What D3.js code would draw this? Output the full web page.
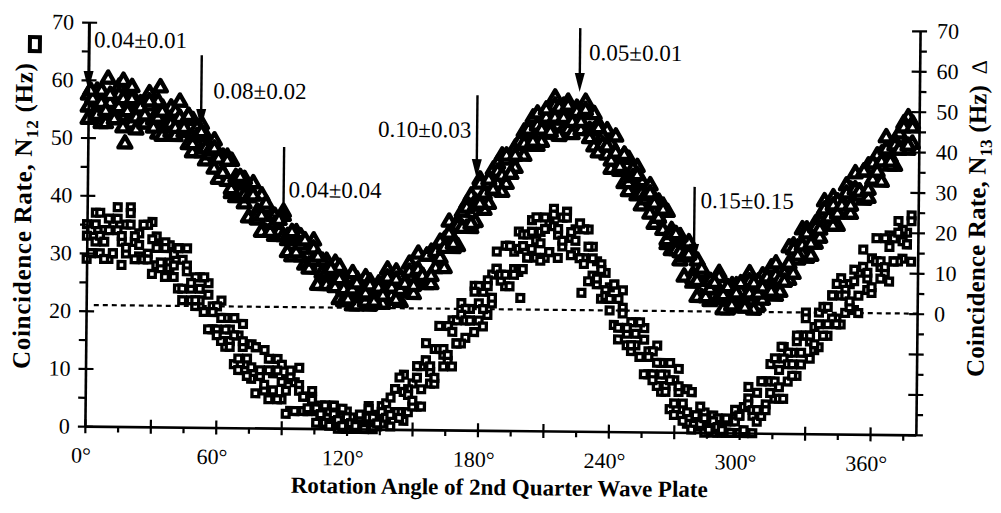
<!DOCTYPE html>
<html>
<head>
<meta charset="utf-8">
<script src="https://cdn.jsdelivr.net/npm/d3@7"></script>
<style>
body { margin: 0; background: #fff; }
</style>
</head>
<body>
<script>
// rotation angle of the 2nd quarter wave plate (deg)
var angles = [
  0,2,4,6,8,10,12,14,16,18,
  20,22,24,26,28,30,32,34,36,38,
  40,42,44,46,48,50,52,54,56,58,
  60,62,64,66,68,70,72,74,76,78,
  80,82,84,86,88,90,92,94,96,98,
  100,102,104,106,108,110,112,114,116,118,
  120,122,124,126,128,130,132,134,136,138,
  140,142,144,146,148,150,152,154,156,158,
  160,162,164,166,168,170,172,174,176,178,
  180,182,184,186,188,190,192,194,196,198,
  200,202,204,206,208,210,212,214,216,218,
  220,222,224,226,228,230,232,234,236,238,
  240,242,244,246,248,250,252,254,256,258,
  260,262,264,266,268,270,272,274,276,278,
  280,282,284,286,288,290,292,294,296,298,
  300,302,304,306,308,310,312,314,316,318,
  320,322,324,326,328,330,332,334,336,338,
  340,342,344,346,348,350,352,354,356,358,
  360,362,364,366,368,370,372,374,376,378
];

// N12 coincidence rate (Hz), squares, left axis, three scans
var n12ScanA = [
  35,30,37,30,34,29,35,38,32,30,
  38,32,29.5,35,30,35.5,28,31.5,26,31.5,
  30,24,29,31,24,21,26,20,25,17,
  17,22,14,17,11,16,18,11,8.5,14,
  9,6.5,12,6.5,12,5,8.5,3,8,10.5,
  3,5.5,6.5,3,1.5,4,1,4,0,2,
  3,0,1.5,0,2,4,1.5,0.5,4,2,
  0.5,7,3,9.5,3,8,4,11,15,10,
  14,18,13,12,19,15,22,16,21,17,
  19,24,20,27,31,26,25,32,28,34.5,
  34,30,36.5,30,34.5,30,36,38.5,34,32,
  38,33.5,31,36,30,35,27,29.5,23,27.5,
  25,18.5,23,24.5,17,14,19,13,18,10,
  10,15,7,10,4,9,11,4,1.5,7,
  2.5,1,3.5,0.5,3,0,1.5,0,2,4,
  0,4.5,8,3,2,9,5,12,6,11,
  15,9,14,10,17,21,16,14.5,21,17,
  17,24,20,27,21,26,21.5,28,32,27,
  30.5,34,29,28,34.5,30,37,30.5,35,30
];
var n12ScanB = [
  29,34,32,37,29,34,30,36,28,35,
  37,29,33.5,29,35,26.5,33,27.5,32,28.5,
  26,31,22,28,22,26,22,26,17,21,
  21,15,19,15,19,10,14,9,14.5,6,
  9,13.5,5,9.5,5,11,2.5,9,3,7.5,
  5.5,3,5.5,1,4,1,3,4,1,3.5,
  0,2,0,2,0.5,3.5,0,2.5,1,4.5,
  5.5,3,9,1.5,7,4,11,4,12,8,
  8,14,11,18,11,19,15,21,19,25,
  25,18,26,22,28,26,32,25,31,27.5,
  28,34,31.5,37,29.5,35,31,37.5,30,37,
  38,30.5,35,30,35,26,32,25.5,29,24.5,
  21,25.5,16,21.5,15,19,15,19,10,14,
  14,8,12,8,12,3,7,2,7.5,0.5,
  2.5,4.5,0,2,0,2.5,0,2,0,2.5,
  3,0,6,0,7,3,9,7,13,6,
  6,14,10,16,14,20,13,18.5,15,22,
  22,20,26,19,25,22,28.5,21,29,25,
  24.5,30,27,34,26.5,34,30,35.5,33,38
];
var n12ScanC = [
  33,30,35,33,32,36,30,34,33,31,
  35,33,31.5,35,29,32.5,31,28.5,31,27.5,
  28,31,24,27,25,22,24,20,23,20,
  16,19,17,14,16,12,15,12,10.5,14,
  10,7.5,10,6.5,10,8,6.5,10,3,6.5,
  5.5,3.5,5,3.5,2.5,4,0.5,2.5,1.5,0.5,
  2,1,0.5,2.5,0,2,2,1,3,2,
  2.5,7,2,6.5,6,5,9,7,12,11,
  9,14,14,13,17,15,20,19,19,24,
  22,21,25,23,28,27,27,32,27,31.5,
  32,30,34.5,33,32.5,37,31,35.5,35,33,
  37,34.5,33,36,29,32,30,26.5,28,23.5,
  23,25.5,18,20.5,18,15,17,13,16,13,
  9,12,10,7,9,5,8,5,3.5,7,
  3,1.5,2.5,0.5,2,1,0.5,2.5,0,2,
  3,0.5,5,4,4,9,4,9,9,8,
  13,12,12,17,12,17,17,15.5,19,17,
  19,24,19,24,24,23,26.5,24,29,28,
  25.5,30,30,29,32.5,30,35,33.5,33,37
];
var n12ExtraAngles = [199, 227, 319];
var n12ExtraValues = [23, 24, 15];

// N13 coincidence rate (Hz), triangles, right axis, three scans
var n13ScanA = [
  52,47,53,45,50,46,51,54,48,45,
  45,49.5,45,50,52.5,46,42.5,49,43.5,49,
  48,50.5,44,40,46,40,45,36,39.5,34,
  31.5,37,31,36,27,31,25.5,29,30.5,23.5,
  27.5,18.5,22.5,17.5,21.5,23.5,16.5,12.5,18.5,12.5,
  10.5,14.5,16.5,9.5,5.5,11.5,5.5,11,2,6.5,
  4,0.5,7,2,7.5,0.5,4.5,1,6,9.5,
  3,9,1.5,7,4,9.5,13.5,8,6,14,
  13,10.5,17,21.5,17,15.5,24,20,28,21.5,
  32,27.5,26,34.5,31,38,31,37.5,35,41.5,
  44,40.5,47.5,40.5,46.5,43.5,49,52.5,47,44.5,
  44.5,49.5,45,49.5,51.5,44.5,40.5,46,40,44.5,
  41,43,35.5,31.5,37.5,31,35.5,26,29.5,24,
  21.5,27,20,24.5,15,18,12.5,15.5,17,9,
  12.5,3.5,7.5,2.5,7,9.5,3,0.5,6.5,1.5,
  1,6,9.5,4,1.5,9,4.5,11,4,10,
  9.5,8,16.5,13,20.5,13.5,20,17,23.5,27.5,
  21.5,28.5,21.5,27.5,24.5,30.5,34.5,30,28,36.5,
  36,33,39.5,43.5,38.5,36.5,44.5,41,48.5,42
];
var n13ScanB = [
  46,51,48,53,45,50,47,52,44,51,
  52,43.5,50,45,49.5,46,50.5,42,46.5,43,
  42,46.5,43,47,38,44,38,42,37.5,41,
  37.5,33,37,28,32,28,31.5,22,27.5,21.5,
  18.5,24.5,18.5,22.5,18.5,22.5,13.5,17.5,13.5,17.5,
  14.5,10.5,14.5,5.5,11.5,5.5,9.5,6,10,1.5,
  4,8.5,0.5,5,1.5,6.5,1,6,1,6.5,
  7,2,7.5,5,11,3.5,9.5,7,13,6,
  10,16.5,10,18.5,15,21.5,20,26,20,26.5,
  31,24.5,31,29.5,36,29,37,33.5,40,38.5,
  38,44.5,42.5,48.5,41.5,47.5,45,50.5,43,50.5,
  51.5,43.5,50,44.5,48.5,44.5,48.5,39,43,38.5,
  35,39,34.5,38.5,29.5,35,28.5,32,27.5,31,
  27.5,23,26,16.5,20,15,18.5,8.5,14,7,
  3.5,9.5,3.5,7.5,4,8.5,0.5,5,1.5,6.5,
  5,2,7.5,0.5,7.5,3,8.5,6,12,5,
  9.5,16,9.5,16,14.5,20.5,14,22,18.5,24.5,
  25.5,21.5,27.5,25.5,31.5,24.5,30.5,29,35,28.5,
  33,39,32.5,40.5,36.5,42.5,40.5,47,40.5,47
];
var n13ScanC = [
  49,51,47,50,48,52,46,49,51,48,
  51,46.5,49,47,50.5,44,46.5,48,44.5,45,
  44,46.5,44,47,40,42,43,39,38.5,39,
  36.5,33,36,29,31,32,27.5,27,27.5,22.5,
  22.5,25.5,18.5,20.5,21.5,17.5,17.5,18.5,13.5,15.5,
  16.5,9.5,11.5,12.5,8.5,8.5,9.5,5,7,4.5,
  2,4.5,6,3,3.5,5.5,1.5,5,3,7.5,
  5,7,4.5,6,9,5.5,9.5,8,13,8,
  14,12.5,15,18.5,16,20.5,20,25,21,25.5,
  26,28.5,32,29.5,34,33,38,33.5,38,41.5,
  41,44.5,41.5,45.5,44.5,49.5,44,47.5,50,47.5,
  50.5,46.5,49,46.5,49.5,42.5,44.5,45,41,40.5,
  37,39,35.5,38.5,31.5,33,33.5,29,28.5,29,
  26.5,23,25,17.5,19,19,14.5,13.5,14,8,
  7.5,10.5,3.5,5.5,7,3.5,4,6,1.5,4.5,
  7,1,4.5,7,4.5,6,8.5,5,9,8,
  7.5,12,15.5,14,16.5,19.5,17,21,20.5,25.5,
  23.5,26.5,24.5,26.5,29.5,26.5,30.5,30,35,30.5,
  37,35,37.5,40.5,37.5,41.5,40.5,46,41.5,46
];
var n13ExtraAngles = [9, 16, 20, 17, 33, 1];
var n13ExtraValues = [56, 55.5, 54, 40, 54, 53];

var xTickValues = [0,15,30,45,60,75,90,105,120,135,150,165,180,195,210,225,240,255,270,285,300,315,330,345,360,375];
var xLabelValues = [0,60,120,180,240,300,360];
var leftTickValues = [0,5,10,15,20,25,30,35,40,45,50,55,60,65,70];
var rightTickValues = [-30,-25,-20,-15,-10,-5,0,5,10,15,20,25,30,35,40,45,50,55,60,65,70];

// arrows: angle, shaft top and tip (right-axis units), label anchor point
var noteLabels = ["0.04\u00b10.01","0.08\u00b10.02","0.04\u00b10.04","0.10\u00b10.03","0.05\u00b10.01","0.15\u00b10.15"];
var noteAngles = [0, 51.8, 90, 178.4, 225.2, 278.4];
var noteTops = [70, 62.1, 39.6, 52.9, 69.8, 30.8];
var noteTips = [53.2, 44.1, 19.0, 32.4, 54.0, 12.0];
var noteTextAngles = [2.3, 57.3, 92.2, 175.7, 229.4, 281.2];
var noteTextValues = [63.8, 51.5, 27.2, 42.4, 61.9, 25.6];

var W = 1001, H = 513;
var font = "'Liberation Serif','Times New Roman',serif";
var yTop = 26.5, yBot = 430.5;

var x = d3.scaleLinear().domain([0, 381]).range([87, 918]);
var yL = d3.scaleLinear().domain([0, 70]).range([yBot, yTop]);
var yR = d3.scaleLinear().domain([-30, 70]).range([yBot, yTop]);

var svg = d3.select("body").append("svg").attr("width", W).attr("height", H);
// the scanned figure is slightly tilted
var g = svg.append("g").attr("transform", "rotate(0.6,502,228)");

// dashed zero line of the right axis
g.append("line")
  .attr("x1", x(3.5)).attr("x2", x(381))
  .attr("y1", yR(0)).attr("y2", yR(0))
  .attr("stroke", "#000").attr("stroke-width", 2.2)
  .attr("stroke-dasharray", "5,4");

function pairs(xs, ys) {
  return xs.map(function(a, i){ return [a, ys[i]]; });
}

// triangles
var n13Points = pairs(angles, n13ScanA)
  .concat(pairs(angles, n13ScanB))
  .concat(pairs(angles, n13ScanC))
  .concat(pairs(n13ExtraAngles, n13ExtraValues));
var tri = d3.symbol().type(d3.symbolTriangle).size(72);
g.append("g").selectAll("path").data(n13Points).enter().append("path")
  .attr("d", tri)
  .attr("transform", function(d){ return "translate(" + x(d[0]) + "," + yR(d[1]) + ")"; })
  .attr("fill", "#fff").attr("stroke", "#000").attr("stroke-width", 4.4)
  .attr("stroke-linejoin", "round");

// squares
var n12Points = pairs(angles, n12ScanA)
  .concat(pairs(angles, n12ScanB))
  .concat(pairs(angles, n12ScanC))
  .concat(pairs(n12ExtraAngles, n12ExtraValues));
g.append("g").selectAll("rect").data(n12Points).enter().append("rect")
  .attr("x", function(d){ return x(d[0]) - 3.4; })
  .attr("y", function(d){ return yL(d[1]) - 3.4; })
  .attr("width", 6.8).attr("height", 6.8)
  .attr("fill", "#fff").attr("stroke", "#000").attr("stroke-width", 3.3);

function styleAxis(sel) {
  sel.select(".domain").attr("stroke-width", 2.6);
  sel.selectAll(".tick line").attr("stroke-width", 2.2);
  sel.selectAll("text").attr("font-family", font).attr("font-size", 22).attr("fill", "#000");
}

// bottom axis
var gx = g.append("g").attr("transform", "translate(0," + yBot + ")")
  .call(d3.axisBottom(x).tickValues(xTickValues).tickSize(6).tickSizeOuter(0)
    .tickFormat(function(d){ return xLabelValues.indexOf(d) >= 0 ? d + "\u00b0" : ""; }));
styleAxis(gx);
gx.selectAll(".tick").filter(function(d){ return d % 30 === 0; }).select("line").attr("y1", -7).attr("y2", 7);
gx.selectAll(".tick text").attr("y", 21).attr("dx", -4);

// left axis
var gl = g.append("g").attr("transform", "translate(" + x(0) + ",0)")
  .call(d3.axisLeft(yL).tickValues(leftTickValues).tickSize(7).tickSizeOuter(0)
    .tickFormat(function(d){ return d % 10 === 0 ? d : ""; }));
styleAxis(gl);
gl.selectAll(".tick").filter(function(d){ return d % 10 === 0; }).select("line").attr("x1", 8);
gl.selectAll(".tick text").attr("x", -15);

// right axis
var gr = g.append("g").attr("transform", "translate(" + x(381) + ",0)")
  .call(d3.axisRight(yR).tickValues(rightTickValues).tickSize(7).tickSizeOuter(0)
    .tickFormat(function(d){ return d >= 0 && d % 10 === 0 ? d : ""; }));
styleAxis(gr);
gr.selectAll(".tick").filter(function(d){ return d % 10 === 0; }).select("line").attr("x1", -8);
gr.selectAll(".tick text").attr("x", 17);

// arrows with asymmetry labels
noteLabels.forEach(function(lab, i){
  var ax = x(noteAngles[i]), yt = yR(noteTops[i]), yp = yR(noteTips[i]);
  g.append("line").attr("x1", ax).attr("x2", ax).attr("y1", yt).attr("y2", yp - 12)
    .attr("stroke", "#000").attr("stroke-width", 2.4);
  g.append("path")
    .attr("d", "M" + ax + "," + yp + "L" + (ax - 5) + "," + (yp - 19) + "L" + (ax + 5) + "," + (yp - 19) + "Z")
    .attr("fill", "#000");
  g.append("text")
    .attr("x", x(noteTextAngles[i])).attr("y", yR(noteTextValues[i]))
    .attr("text-anchor", i === 3 ? "end" : "start")
    .attr("font-family", font).attr("font-size", 23)
    .text(lab);
});

// axis titles
g.append("text")
  .attr("x", 502).attr("y", 495)
  .attr("text-anchor", "middle")
  .attr("font-family", font).attr("font-size", 23).attr("font-weight", "bold")
  .text("Rotation Angle of 2nd Quarter Wave Plate");

var lt = g.append("text")
  .attr("transform", "translate(31,374) rotate(-90)")
  .attr("font-family", font).attr("font-size", 25).attr("font-weight", "bold")
  .attr("textLength", 306).attr("lengthAdjust", "spacing");
lt.append("tspan").text("Coincidence Rate, N");
lt.append("tspan").attr("font-size", 17).attr("dy", 6).text("12");
lt.append("tspan").attr("dy", -6).text(" (Hz)");
g.append("rect").attr("x", 28).attr("y", 42).attr("width", 10).attr("height", 14)
  .attr("fill", "#fff").attr("stroke", "#000").attr("stroke-width", 4);

var rt = g.append("text")
  .attr("transform", "translate(985,372) rotate(-90)")
  .attr("font-family", font).attr("font-size", 25).attr("font-weight", "bold")
  .attr("textLength", 292).attr("lengthAdjust", "spacing");
rt.append("tspan").text("Coincidence Rate, N");
rt.append("tspan").attr("font-size", 17).attr("dy", 6).text("13");
rt.append("tspan").attr("dy", -6).text(" (Hz)");
g.append("text")
  .attr("transform", "translate(985,62) rotate(-90)")
  .attr("font-family", font).attr("font-size", 22)
  .attr("text-anchor", "middle")
  .text("\u0394");
</script>
</body>
</html>
